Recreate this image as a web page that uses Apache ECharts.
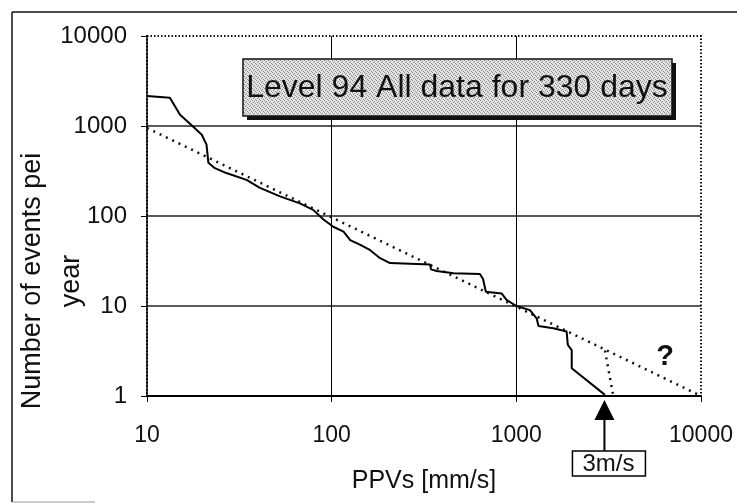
<!DOCTYPE html>
<html>
<head>
<meta charset="utf-8">
<script src="https://cdn.jsdelivr.net/npm/echarts@6/dist/echarts.min.js"></script>
<style>
  html, body { margin: 0; padding: 0; background: #fff; }
  #chart { width: 737px; height: 503px; }
</style>
</head>
<body>
<div id="chart"></div>
<script>
/* PPV (mm/s) vs number of events per year */
const ppv = [10, 13.3, 15.1, 17.8, 19.8, 21, 21.5, 23.3, 26.9, 34.6, 40.9, 52.5, 67.3, 79.4, 90, 102,
  116, 126, 142, 161, 183, 207, 341, 345, 370, 457, 635, 660, 684, 832, 885, 1000, 1185, 1288, 1318,
  1585, 1872, 1900, 1995, 1995, 3020];
const events = [2150, 2060, 1330, 980, 800, 620, 390, 340, 300, 252, 205, 165, 138, 117, 92, 76,
  67, 54, 48, 42, 34, 30, 29, 25.5, 24.5, 23.1, 22.7, 20, 14.4, 13.8, 11.7, 10, 9.0, 7.3, 6.0,
  5.65, 5.2, 3.7, 3.24, 2.03, 1.03];

/* dotted power-law fit and the drop to the 3 m/s limit */
const fitPpv = [10, 10000];
const fitEvents = [950, 1];
const dropPpv = [3020, 3350];
const dropEvents = [3.2, 1];

const limitPpv = 3000;
const xTicks = [10, 100, 1000, 10000];
const yTicks = [1, 10, 100, 1000, 10000];

const FONT = "'Liberation Sans', Arial, sans-serif";

function pairs(xs, ys) {
  return xs.map(function (x, i) { return [x, ys[i]]; });
}

/* stippled grey fill like the scanned title box */
function stipple() {
  const c = document.createElement("canvas");
  c.width = 4;
  c.height = 4;
  const ctx = c.getContext("2d");
  ctx.fillStyle = "#e4e4e4";
  ctx.fillRect(0, 0, 4, 4);
  ctx.fillStyle = "#8a8a8a";
  ctx.fillRect(0, 0, 1, 1);
  ctx.fillRect(2, 1, 1, 1);
  ctx.fillRect(1, 2, 1, 1);
  ctx.fillRect(3, 3, 1, 1);
  return c;
}

const chart = echarts.init(document.getElementById("chart"), null, { renderer: "canvas" });

chart.setOption({
  animation: false,
  backgroundColor: "#fff",
  grid: {
    left: 147, right: 36, top: 36, bottom: 107,
    show: true,
    borderColor: "#111",
    borderWidth: 2,
    borderType: [1.5, 2],
  },
  xAxis: {
    type: "log",
    logBase: 10,
    min: xTicks[0],
    max: xTicks[xTicks.length - 1],
    name: "PPVs [mm/s]",
    nameLocation: "middle",
    nameGap: 73,
    nameTextStyle: { fontFamily: FONT, fontSize: 25, color: "#111" },
    axisLine: { lineStyle: { color: "#000", width: 2 } },
    axisTick: { show: true, length: 6, lineStyle: { color: "#000", width: 1 } },
    axisLabel: {
      margin: 28,
      fontFamily: FONT, fontSize: 23, color: "#111",
      formatter: function (v) { return String(Math.round(v)); },
    },
    splitLine: { show: true, showMinLine: false, showMaxLine: false, lineStyle: { color: "#000", width: 1 } },
  },
  yAxis: {
    type: "log",
    logBase: 10,
    min: yTicks[0],
    max: yTicks[yTicks.length - 1],
    axisLine: { show: true, lineStyle: { color: "#000", width: 1.5 } },
    axisTick: { show: true, length: 6, lineStyle: { color: "#000", width: 1 } },
    axisLabel: {
      margin: 20,
      fontFamily: FONT, fontSize: 24, color: "#111",
      formatter: function (v) { return String(Math.round(v)); },
    },
    splitLine: { show: true, showMinLine: false, showMaxLine: false, lineStyle: { color: "#222", width: 1.5 } },
  },
  series: [
    {
      name: "events",
      type: "line",
      data: pairs(ppv, events),
      showSymbol: false,
      lineStyle: { color: "#000", width: 2 },
      z: 3,
    },
    {
      name: "fit",
      type: "line",
      data: pairs(fitPpv, fitEvents),
      showSymbol: false,
      lineStyle: { color: "#111", width: 2.5, type: [2, 5] },
      z: 2,
    },
    {
      name: "drop",
      type: "line",
      data: pairs(dropPpv, dropEvents),
      showSymbol: false,
      lineStyle: { color: "#111", width: 2.5, type: [2, 5] },
      z: 2,
    },
  ],
});

/* annotations: placed after the axes exist so the arrow can sit on 3 m/s */
const anchor = chart.convertToPixel({ gridIndex: 0 }, [limitPpv, 1]);
const arrowX = anchor[0];
const axisY = anchor[1];

chart.setOption({
  graphic: [
    /* outer frame of the scanned figure */
    { type: "line", shape: { x1: 12, y1: 12, x2: 737, y2: 12 }, style: { stroke: "#111", lineWidth: 1.5 } },
    { type: "line", shape: { x1: 12, y1: 12, x2: 12, y2: 502 }, style: { stroke: "#111", lineWidth: 1.5 } },
    { type: "line", shape: { x1: 12, y1: 502, x2: 95, y2: 502 }, style: { stroke: "#999", lineWidth: 1 } },

    /* y axis title, two lines */
    {
      type: "text",
      x: 52, y: 281,
      rotation: Math.PI / 2,
      style: {
        text: "Number of events pei\nyear",
        font: "27px " + FONT,
        fill: "#111",
        align: "center",
        verticalAlign: "middle",
        lineHeight: 39,
      },
    },

    /* title box with drop shadow */
    { type: "rect", shape: { x: 247, y: 63, width: 429, height: 57 }, style: { fill: "#111" }, z: 10 },
    {
      type: "rect",
      shape: { x: 243, y: 59, width: 429, height: 57 },
      style: { fill: { image: stipple(), repeat: "repeat" }, stroke: "#111", lineWidth: 1.5 },
      z: 11,
    },
    {
      type: "text",
      x: 457, y: 88,
      style: {
        text: "Level 94 All data for 330 days",
        font: "32px " + FONT,
        fill: "#111",
        align: "center",
        verticalAlign: "middle",
      },
      z: 12,
    },

    /* question mark */
    {
      type: "text",
      x: 665, y: 357,
      style: { text: "?", font: "bold 29px " + FONT, fill: "#111", align: "center", verticalAlign: "middle" },
      z: 12,
    },

    /* arrow to 3 m/s */
    {
      type: "polygon",
      shape: { points: [[arrowX, axisY + 4], [arrowX - 10, axisY + 24], [arrowX + 10, axisY + 24]] },
      style: { fill: "#000" },
      z: 12,
    },
    {
      type: "line",
      shape: { x1: arrowX, y1: axisY + 24, x2: arrowX, y2: axisY + 55 },
      style: { stroke: "#000", lineWidth: 2 },
      z: 12,
    },
    {
      type: "rect",
      shape: { x: arrowX - 32, y: axisY + 55, width: 73, height: 25 },
      style: { fill: "#fff", stroke: "#000", lineWidth: 1.5 },
      z: 12,
    },
    {
      type: "text",
      x: arrowX + 4, y: axisY + 68,
      style: { text: "3m/s", font: "24px " + FONT, fill: "#111", align: "center", verticalAlign: "middle" },
      z: 13,
    },
  ],
});
</script>
</body>
</html>
